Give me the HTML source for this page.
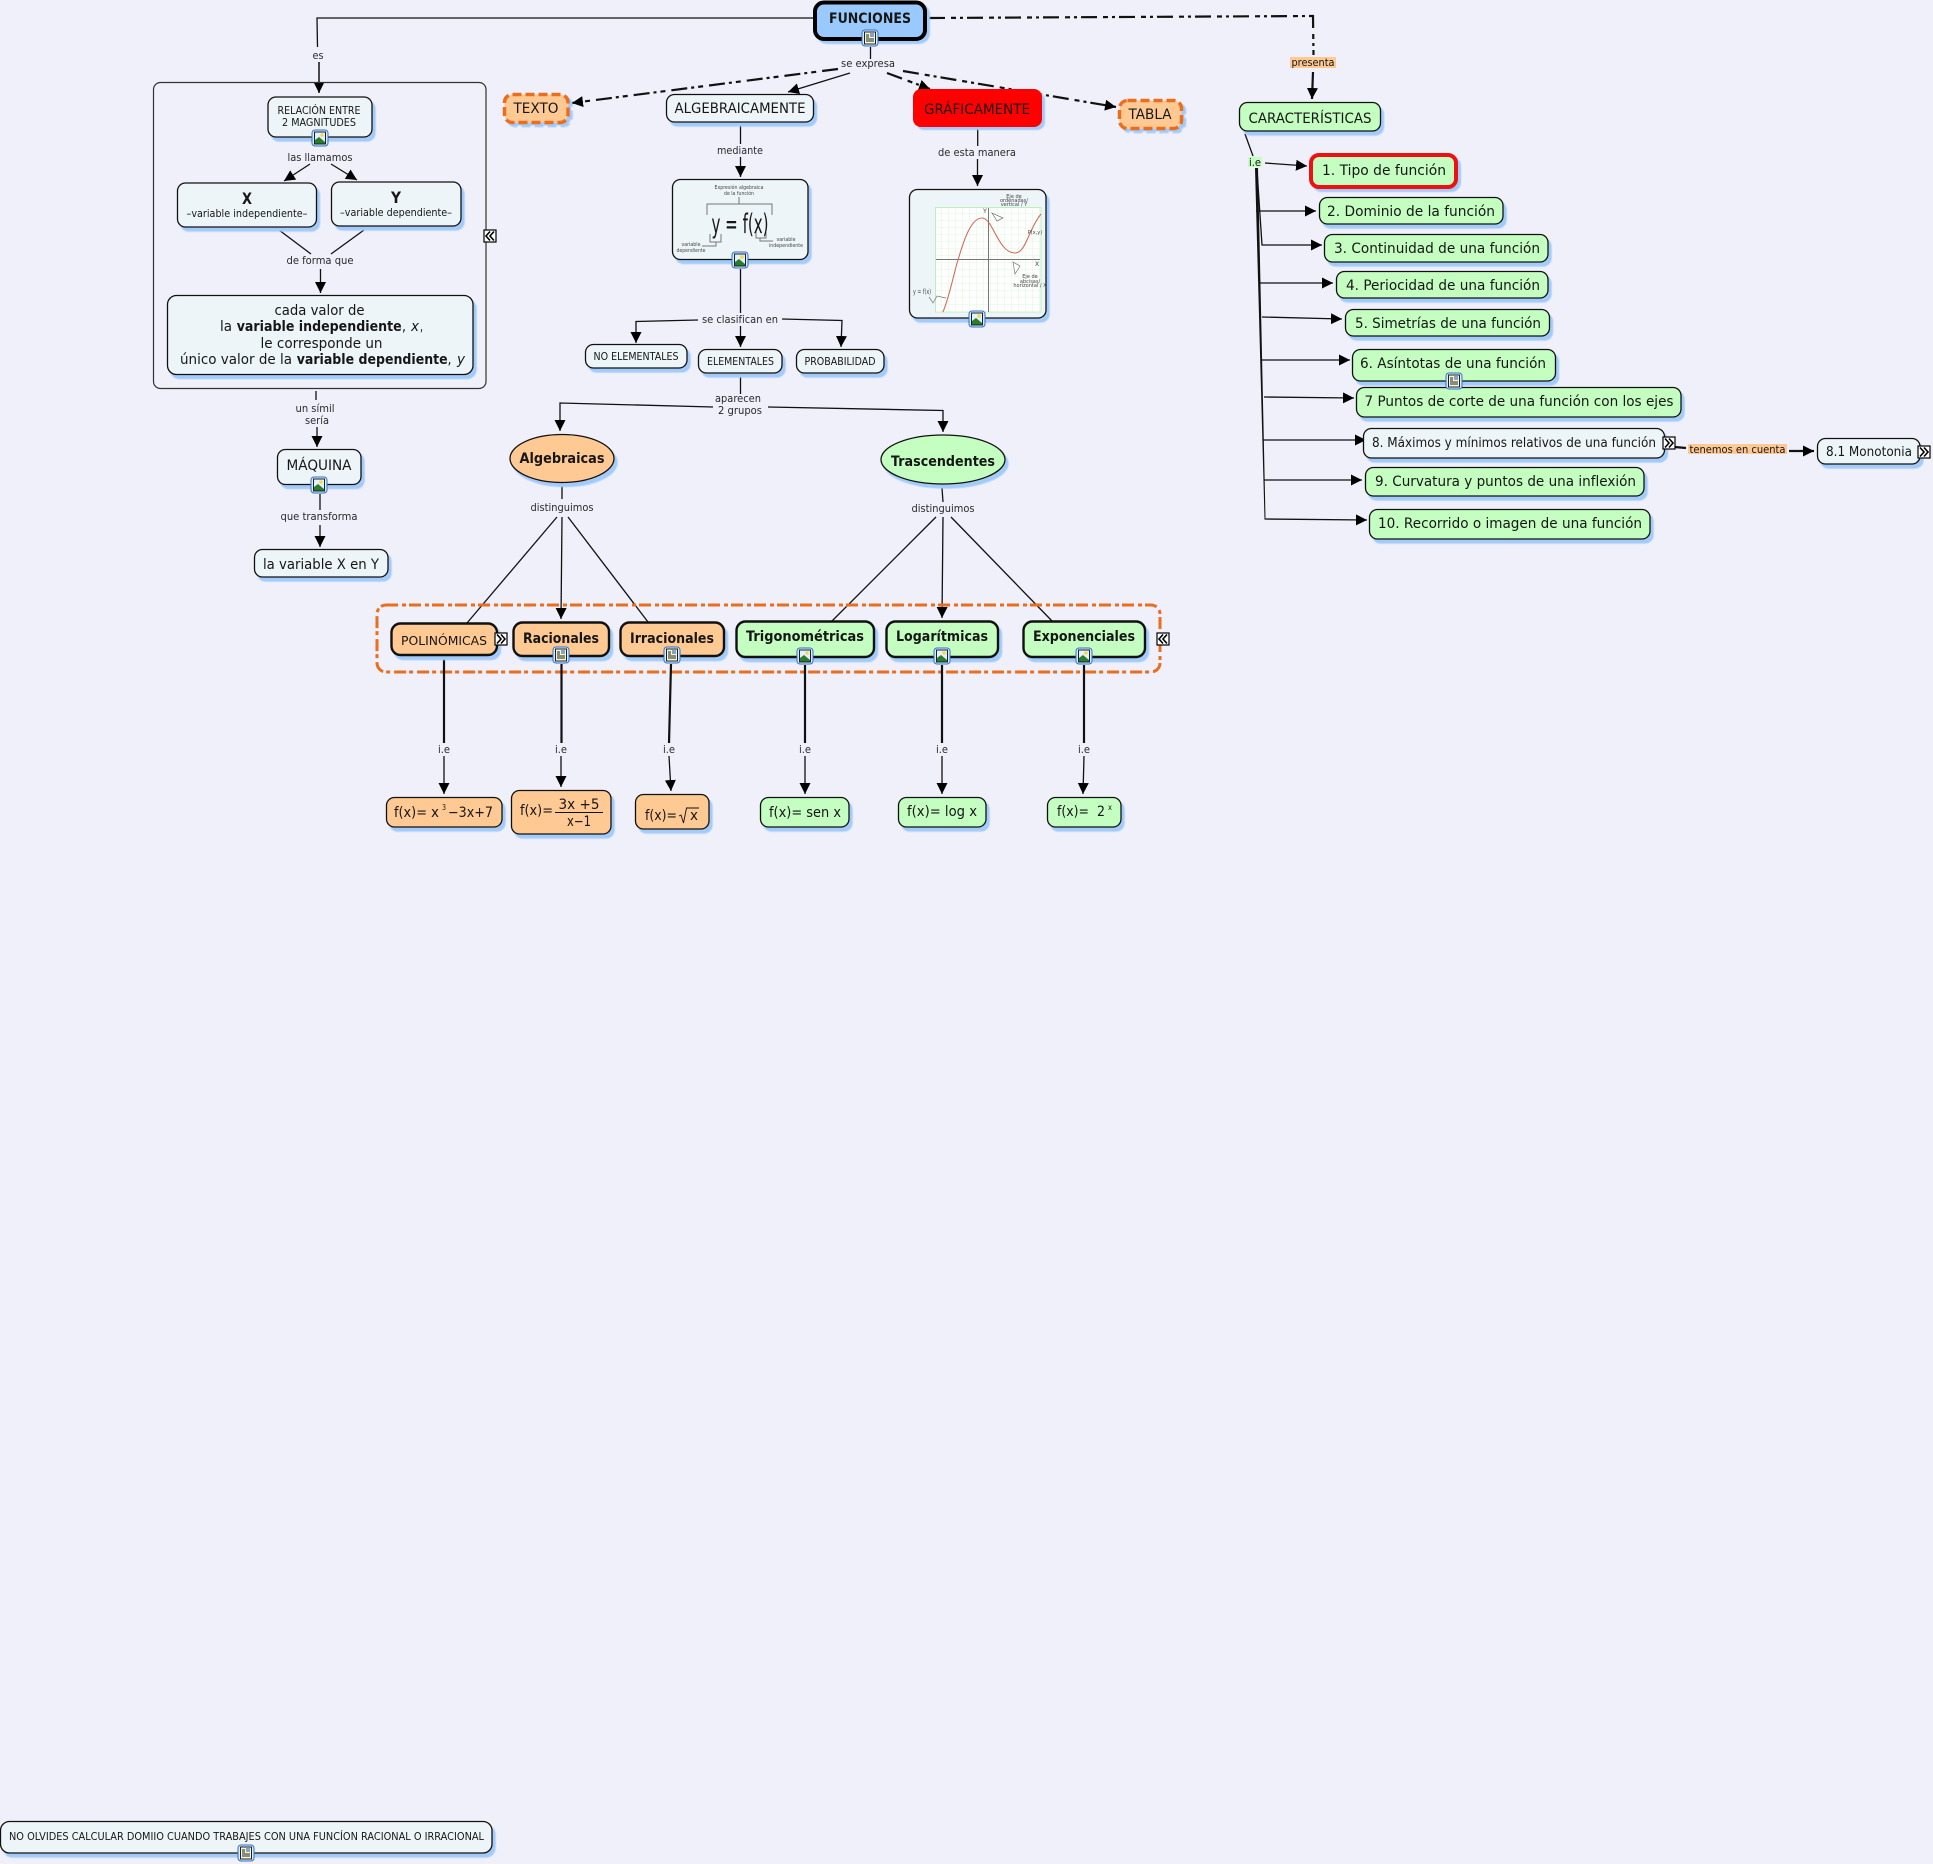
<!DOCTYPE html>
<html lang="es"><head><meta charset="utf-8"><title>FUNCIONES</title>
<style>
html,body{margin:0;padding:0;background:#eff0fa}
svg{display:block}
text{font-family:"DejaVu Sans","Liberation Sans",sans-serif;text-anchor:middle;fill:#161616}
.s{text-anchor:start}
.l{fill:#2a2a2a}
.b{font-weight:bold}
.n{stroke:#111;stroke-width:1.3;filter:drop-shadow(3.5px 4px .5px #a3cbf9)}
.p{fill:#eef5f8}.g{fill:#c4fec0}.o{fill:#ffc993}
.k{stroke-width:2.4}
.c{fill:none;stroke:#111;stroke-width:1.3}
.m{marker-end:url(#a)}
.d{fill:none;stroke:#111;stroke-width:2.2;stroke-dasharray:16 6 5 4 3 4}
.t{fill:none;stroke:#111;stroke-width:2.2}
.gr{fill:none;stroke:#777;stroke-width:1}
.x{fill:#444}
</style></head><body>
<svg xmlns="http://www.w3.org/2000/svg" width="1933" height="1864" viewBox="0 0 1933 1864">
<defs>
<marker id="a" markerUnits="userSpaceOnUse" markerWidth="13" markerHeight="13" refX="11" refY="5.5" orient="auto"><path d="M0 0L11 5.500L0 11Z" fill="#000"/></marker>
<g id="img"><rect x="-8" y="-8" width="16" height="16" rx="3" fill="#dce9f8" stroke="#2f6fc9"/><rect x="-5.5" y="-6" width="11" height="12" fill="#e6f0fa" stroke="#123"/><path d="M-5 5.5L-5 2L-1 -1L5 4L5 5.5Z" fill="#2a7d2a"/><circle cx="2" cy="-3" r="1.8" fill="#f5d94a"/></g>
<g id="doc"><rect x="-8" y="-8" width="16" height="16" rx="3" fill="#dce9f8" stroke="#2f6fc9"/><rect x="-5.5" y="-6" width="11" height="12" fill="#fbf6c8" stroke="#123"/><path d="M-4 -3H-1M-4 -1H-1M-4 1H4M-4 3H4" stroke="#123" stroke-width=".9"/><rect x="0" y="-5" width="4" height="4" fill="#8aa0c8"/></g>
<g id="cl"><rect x="-6" y="-6" width="12" height="12" fill="#fff" stroke="#000" stroke-width="1.2"/><path d="M0 -4.5L-4 0L0 4.5M4 -4.5L0 0L4 4.5" fill="none" stroke="#000" stroke-width="1.6"/></g>
<g id="cr"><rect x="-6" y="-6" width="12" height="12" fill="#fff" stroke="#000" stroke-width="1.2"/><path d="M0 -4.5L4 0L0 4.5M-4 -4.5L0 0L-4 4.5" fill="none" stroke="#000" stroke-width="1.6"/></g>
<pattern id="gp" width="7" height="7" patternUnits="userSpaceOnUse" x="935" y="207"><path d="M7 0V7H0" fill="none" stroke="#d6f3d6" stroke-width=".8"/></pattern>
</defs>
<rect width="1933" height="1864" fill="#eff0fa"/>

<!-- connectors -->
<path class="c" d="M813 18H317L317.5 47"/>
<path class="t m" d="M319 62V93" style="stroke-width:1.5"/>
<rect x="153.5" y="82.5" width="332.5" height="306" rx="7" fill="none" stroke="#333" stroke-width="1.2"/>
<path class="c" d="M870.5 47V59"/>
<path class="d m" d="M838 69L572 103"/>
<path class="c m" d="M850 73L788 92"/>
<path class="d m" d="M887 73L930 89" />
<path class="d m" d="M903 71L1116 107"/>
<path class="d" d="M929 18L1313 16L1313.5 55"/>
<path class="t m" d="M1313 72L1312 99"/>
<path class="c m" d="M310 164L284 181"/>
<path class="c m" d="M331 164L357 180"/>
<path class="c" d="M279 230L311 254M364 230L331 254"/>
<path class="c m" d="M320.500 269V293"/>
<path class="c" d="M316 391V400"/>
<path class="c m" d="M317 427V447"/>
<path class="c" d="M320 494V510"/>
<path class="c m" d="M320 525V547"/>
<path class="c" d="M740.500 125V144"/>
<path class="c m" d="M740.500 157V177"/>
<path class="c" d="M740.500 269V313"/>
<path class="c m" d="M698 320L636 321.500V343"/>
<path class="c m" d="M740.500 326V347"/>
<path class="c m" d="M782 319L842 320.500L841 347"/>
<path class="c" d="M740.500 377V394"/>
<path class="c m" d="M768 407L943 410.500L943 432"/>
<path class="c m" d="M713 407L560 403V431"/>
<path class="c" d="M977.700 129V146"/>
<path class="c m" d="M977.500 159V186"/>
<path class="c" d="M562 486V499M942 488L943 502"/>
<path class="c" d="M557 517L467 623M568 517L648 622"/>
<path class="c m" d="M562 517L561 619"/>
<path class="c" d="M936 517L832 621M951 517L1052 621"/>
<path class="c m" d="M943 517L942 618"/>
<!-- right branch -->
<path class="c" d="M1245 134L1253 156"/>
<path class="c m" d="M1265 163L1307 166"/>
<polygon points="1255,168 1258,168 1265.500,519 1264.500,519" fill="#111"/>
<path class="c m" d="M1256 211H1316"/>
<path class="c m" d="M1257 170L1262 245H1322"/>
<path class="c m" d="M1260 283H1333"/>
<path class="c m" d="M1262 317L1342 319"/>
<path class="c m" d="M1262 360H1350"/>
<path class="c m" d="M1264 397L1354 398"/>
<path class="c m" d="M1263 440H1366"/>
<path class="c m" d="M1264 480H1362"/>
<path class="c m" d="M1264.500 519L1367 520"/>
<path class="t" d="M1674.500 447L1686 448"/>
<path class="t m" d="M1789 451H1814"/>
<!-- group -->
<rect x="377" y="605" width="783" height="67" rx="9" fill="none" stroke="#ea6e1e" stroke-width="3" stroke-dasharray="12 4 4 3"/>
<!-- vertical -->
<path class="t" d="M444 657V743M561.500 664V743M671 664L669 743M805 665V743M942 665V743M1084 665V743"/>
<path class="c m" d="M444 756V794"/><path class="c m" d="M561 756V787"/><path class="c m" d="M669 756L671 791"/><path class="c m" d="M805 756V794"/><path class="c m" d="M942 756V794"/><path class="c m" d="M1084 756L1083 794"/>

<!-- labels -->
<g font-size="11">
<text class="l" x="318" y="59" textLength="11" lengthAdjust="spacingAndGlyphs">es</text>
<text class="l" x="868" y="67" textLength="54" lengthAdjust="spacingAndGlyphs">se expresa</text>
<text class="l" x="320" y="161" textLength="65" lengthAdjust="spacingAndGlyphs">las llamamos</text>
<text class="l" x="320" y="264" textLength="67" lengthAdjust="spacingAndGlyphs">de forma que</text>
<text class="l" x="315" y="412" textLength="39" lengthAdjust="spacingAndGlyphs">un símil</text>
<text class="l" x="317" y="424" textLength="24" lengthAdjust="spacingAndGlyphs">sería</text>
<text class="l" x="319" y="520" textLength="77" lengthAdjust="spacingAndGlyphs">que transforma</text>
<text class="l" x="740" y="154" textLength="46" lengthAdjust="spacingAndGlyphs">mediante</text>
<text class="l" x="977" y="156" textLength="78" lengthAdjust="spacingAndGlyphs">de esta manera</text>
<text class="l" x="740" y="323" textLength="76" lengthAdjust="spacingAndGlyphs">se clasifican en</text>
<text class="l" x="738" y="402" textLength="46" lengthAdjust="spacingAndGlyphs">aparecen</text>
<text class="l" x="740" y="414" textLength="44" lengthAdjust="spacingAndGlyphs">2 grupos</text>
<text class="l" x="562" y="511" textLength="63" lengthAdjust="spacingAndGlyphs">distinguimos</text>
<text class="l" x="943" y="512" textLength="63" lengthAdjust="spacingAndGlyphs">distinguimos</text>
<text class="l" x="444" y="753" textLength="12" lengthAdjust="spacingAndGlyphs">i.e</text>
<text class="l" x="561" y="753" textLength="12" lengthAdjust="spacingAndGlyphs">i.e</text>
<text class="l" x="669" y="753" textLength="12" lengthAdjust="spacingAndGlyphs">i.e</text>
<text class="l" x="805" y="753" textLength="12" lengthAdjust="spacingAndGlyphs">i.e</text>
<text class="l" x="942" y="753" textLength="12" lengthAdjust="spacingAndGlyphs">i.e</text>
<text class="l" x="1084" y="753" textLength="12" lengthAdjust="spacingAndGlyphs">i.e</text>
<rect x="1290" y="57" width="46" height="11" fill="#ffc993"/>
<text x="1313" y="66" textLength="43" lengthAdjust="spacingAndGlyphs">presenta</text>
<rect x="1248" y="157" width="14" height="10" fill="#c4fec0"/>
<text x="1255" y="166" textLength="12" lengthAdjust="spacingAndGlyphs">i.e</text>
<rect x="1688" y="444" width="99" height="10" fill="#ffc993"/>
<text x="1737.500" y="453" textLength="96" lengthAdjust="spacingAndGlyphs" font-size="10.500">tenemos en cuenta</text>
</g>

<!-- nodes left -->
<rect class="n p" x="268" y="97" width="104" height="40" rx="8"/>
<text x="319" y="114" font-size="10.500" textLength="83" lengthAdjust="spacingAndGlyphs">RELACIÓN ENTRE</text>
<text x="319" y="126" font-size="10.500" textLength="74" lengthAdjust="spacingAndGlyphs">2 MAGNITUDES</text>
<rect class="n p" x="177.500" y="183" width="139" height="44" rx="8"/>
<text class="b" x="247" y="204" font-size="16" textLength="10" lengthAdjust="spacingAndGlyphs">X</text>
<text x="247" y="217" font-size="10.500" textLength="121" lengthAdjust="spacingAndGlyphs">–variable independiente–</text>
<rect class="n p" x="331.500" y="182" width="129.500" height="44" rx="8"/>
<text class="b" x="396" y="203" font-size="16" textLength="10" lengthAdjust="spacingAndGlyphs">Y</text>
<text x="396" y="216" font-size="10.500" textLength="112" lengthAdjust="spacingAndGlyphs">–variable dependiente–</text>
<rect class="n p" x="167.500" y="295.500" width="305.500" height="79" rx="9"/>
<g font-size="14">
<text x="319.500" y="315" textLength="90" lengthAdjust="spacingAndGlyphs">cada valor de</text>
<text class="s" x="220" y="331" textLength="12" lengthAdjust="spacingAndGlyphs">la</text>
<text class="s b" x="236.700" y="331" textLength="165" lengthAdjust="spacingAndGlyphs">variable independiente</text>
<text class="s" x="402" y="331" textLength="4" lengthAdjust="spacingAndGlyphs">,</text>
<text class="s" x="411" y="331" textLength="8" lengthAdjust="spacingAndGlyphs" font-style="italic">x</text>
<text class="s" x="420" y="331" textLength="3" lengthAdjust="spacingAndGlyphs">,</text>
<text x="321.500" y="348" textLength="122" lengthAdjust="spacingAndGlyphs">le corresponde un</text>
<text class="s" x="180" y="364" textLength="112" lengthAdjust="spacingAndGlyphs">único valor de la</text>
<text class="s b" x="296.700" y="364" textLength="151" lengthAdjust="spacingAndGlyphs">variable dependiente</text>
<text class="s" x="447.500" y="364" textLength="4" lengthAdjust="spacingAndGlyphs">,</text>
<text class="s" x="457" y="364" textLength="8" lengthAdjust="spacingAndGlyphs" font-style="italic">y</text>
</g>
<rect class="n p" x="277.500" y="449.500" width="83.500" height="35" rx="8"/>
<text x="319" y="470" font-size="14" textLength="65" lengthAdjust="spacingAndGlyphs">MÁQUINA</text>
<rect class="n p" x="254.500" y="549.500" width="133.500" height="27.500" rx="8"/>
<text x="321" y="569" font-size="14" textLength="116" lengthAdjust="spacingAndGlyphs">la variable X en Y</text>

<!-- top row -->
<rect x="815" y="2.500" width="110" height="36.500" rx="9" fill="#99c9fd" stroke="#000" stroke-width="4" style="filter:drop-shadow(3.5px 3.5px .5px #a3cbf9)"/>
<text class="b" x="870" y="23" font-size="14" textLength="82" lengthAdjust="spacingAndGlyphs">FUNCIONES</text>
<rect class="o" x="504.500" y="94.500" width="63.500" height="28" rx="8" stroke="#ea6e1e" stroke-width="3.500" stroke-dasharray="9 4" style="filter:drop-shadow(3.5px 3.5px .5px #a3cbf9)"/>
<text x="536" y="113" font-size="14" textLength="45" lengthAdjust="spacingAndGlyphs">TEXTO</text>
<rect class="n p" x="666.500" y="94.500" width="147" height="27.500" rx="8"/>
<text x="740" y="113" font-size="14" textLength="131" lengthAdjust="spacingAndGlyphs">ALGEBRAICAMENTE</text>
<rect x="913" y="89" width="129" height="38" rx="8" fill="#ff0000" style="filter:drop-shadow(3.5px 3.5px .5px #a3cbf9)"/>
<text x="977" y="114" font-size="14" textLength="106" lengthAdjust="spacingAndGlyphs">GRÁFICAMENTE</text>
<rect class="o" x="1119.500" y="100.500" width="62" height="28" rx="8" stroke="#ea6e1e" stroke-width="3.500" stroke-dasharray="9 4" style="filter:drop-shadow(3.5px 3.5px .5px #a3cbf9)"/>
<text x="1150" y="119" font-size="14" textLength="43" lengthAdjust="spacingAndGlyphs">TABLA</text>

<!-- image node 1 -->
<rect class="n p" x="672.500" y="179.500" width="135.500" height="80" rx="8"/>
<g font-size="5.500" style="fill:#555">
<text class="x" x="739" y="189" textLength="49" lengthAdjust="spacingAndGlyphs">Expresión algebraica</text>
<text class="x" x="739" y="195" textLength="30" lengthAdjust="spacingAndGlyphs">de la función</text>
<text class="x" x="691" y="246" textLength="19" lengthAdjust="spacingAndGlyphs">variable</text>
<text class="x" x="691" y="252" textLength="29" lengthAdjust="spacingAndGlyphs">dependiente</text>
<text class="x" x="786" y="241" textLength="19" lengthAdjust="spacingAndGlyphs">variable</text>
<text class="x" x="786" y="247" textLength="34" lengthAdjust="spacingAndGlyphs">independiente</text>
</g>
<path class="gr" d="M707 215V204H772V215M739 197V204M710 234V242H721V234M716 242V246H702M756 232V238H766V232M760 238V241H773"/>
<text x="740" y="233" font-size="27" textLength="57" lengthAdjust="spacingAndGlyphs">y = f(x)</text>

<!-- image node 2 -->
<rect class="n p" x="909.500" y="189.500" width="136.500" height="128.500" rx="8"/>
<rect x="935.500" y="207.500" width="105.500" height="104.500" fill="#fff" stroke="#bdeebd"/>
<rect x="935.500" y="207.500" width="105.500" height="104.500" fill="url(#gp)"/>
<path class="gr" d="M988.500 208V312M936 259.500H1040"/>
<path d="M943 312C950 295 954 272 958 260C965 236 972 218 982 218C993 218 998 253 1015 253C1026 253 1028 230 1041 214" fill="none" stroke="#d66a5a" stroke-width="1.100"/>
<path d="M1003 218L992 213L997 221Z M1013 262L1015 274L1020 266Z" fill="#fff" stroke="#777" stroke-width=".7"/>
<g font-size="5">
<text class="x" x="1014" y="198">Eje de</text><text class="x" x="1014" y="202">ordenadas/</text><text class="x" x="1014" y="206">vertical / Y</text>
<text class="x" x="1030" y="278">Eje de</text><text class="x" x="1030" y="283">abcisas/</text><text class="x" x="1030" y="287">horizontal / X</text>
<text class="x" x="1035" y="234">P(x,y)</text>
<text class="x" x="985" y="213" font-size="6">Y</text>
<text class="x" x="1037" y="266" font-size="6">X</text>
</g>
<text class="x" x="922" y="294" font-size="7" textLength="18" lengthAdjust="spacingAndGlyphs">y = f(x)</text>
<path class="gr" style="stroke-width:.7" d="M929 297L933 303L937 296L946 298"/>

<!-- classification -->
<rect class="n p" x="585.500" y="344.500" width="101.500" height="23.500" rx="8"/>
<text x="636" y="360" font-size="10.500" textLength="85" lengthAdjust="spacingAndGlyphs">NO ELEMENTALES</text>
<rect class="n p" x="698.500" y="349.500" width="83.500" height="23.500" rx="8"/>
<text x="740.500" y="365" font-size="10.500" textLength="67" lengthAdjust="spacingAndGlyphs">ELEMENTALES</text>
<rect class="n p" x="796.500" y="349.500" width="87.500" height="23.500" rx="8"/>
<text x="840" y="365" font-size="10.500" textLength="71" lengthAdjust="spacingAndGlyphs">PROBABILIDAD</text>

<ellipse class="n o" cx="562" cy="458.500" rx="52" ry="24"/>
<text class="b" x="562" y="463" font-size="14" textLength="85" lengthAdjust="spacingAndGlyphs">Algebraicas</text>
<ellipse class="n g" cx="943" cy="459.500" rx="62" ry="24.500"/>
<text class="b" x="943" y="466" font-size="14" textLength="104" lengthAdjust="spacingAndGlyphs">Trascendentes</text>

<!-- types -->
<g font-size="14">
<rect class="n o k" x="391.500" y="623.500" width="105.500" height="31.500" rx="9"/>
<text x="444" y="645" font-size="12.500" textLength="86" lengthAdjust="spacingAndGlyphs">POLINÓMICAS</text>
<rect class="n o k" x="513.500" y="622.500" width="95.500" height="33.500" rx="9"/>
<text class="b" x="561" y="643" textLength="76" lengthAdjust="spacingAndGlyphs">Racionales</text>
<rect class="n o k" x="620.500" y="622.500" width="103.500" height="33.500" rx="9"/>
<text class="b" x="672" y="643" textLength="84" lengthAdjust="spacingAndGlyphs">Irracionales</text>
<rect class="n g k" x="736.500" y="621.500" width="137.500" height="35.500" rx="9"/>
<text class="b" x="805" y="641" textLength="118" lengthAdjust="spacingAndGlyphs">Trigonométricas</text>
<rect class="n g k" x="886.500" y="621.500" width="111.500" height="35.500" rx="9"/>
<text class="b" x="942" y="641" textLength="92" lengthAdjust="spacingAndGlyphs">Logarítmicas</text>
<rect class="n g k" x="1023.500" y="621.500" width="121.500" height="35.500" rx="9"/>
<text class="b" x="1084" y="641" textLength="102" lengthAdjust="spacingAndGlyphs">Exponenciales</text>

<!-- formulas -->
<rect class="n o" x="386.500" y="797.500" width="115.500" height="29.500" rx="8"/>
<text class="s" x="394" y="817" textLength="33" lengthAdjust="spacingAndGlyphs">f(x)=</text>
<text class="s" x="431" y="817" textLength="8" lengthAdjust="spacingAndGlyphs">x</text>
<text class="s" x="442" y="810" font-size="8" textLength="4" lengthAdjust="spacingAndGlyphs">3</text>
<text class="s" x="448" y="817" textLength="45" lengthAdjust="spacingAndGlyphs">−3x+7</text>
<rect class="n o" x="511.500" y="790.500" width="99.500" height="43.500" rx="8"/>
<text class="s" x="520" y="815" textLength="33" lengthAdjust="spacingAndGlyphs">f(x)=</text>
<text x="579" y="809" textLength="41" lengthAdjust="spacingAndGlyphs">3x +5</text>
<path d="M555 812.500H603" stroke="#111" stroke-width="1"/>
<text x="579" y="826" textLength="24" lengthAdjust="spacingAndGlyphs">x−1</text>
<rect class="n o" x="635.500" y="794.500" width="73.500" height="34.500" rx="8"/>
<text class="s" x="645" y="820" textLength="32" lengthAdjust="spacingAndGlyphs">f(x)=</text>
<path d="M679 816l2 -1l2.500 8l3 -15h12.500" fill="none" stroke="#111" stroke-width=".9"/>
<text class="s" x="690" y="820" textLength="8" lengthAdjust="spacingAndGlyphs">x</text>
<rect class="n g" x="760.500" y="797.500" width="88.500" height="29.500" rx="8"/>
<text x="805" y="817" textLength="72" lengthAdjust="spacingAndGlyphs">f(x)= sen x</text>
<rect class="n g" x="898.500" y="797.500" width="87.500" height="29.500" rx="8"/>
<text x="942" y="816" textLength="70" lengthAdjust="spacingAndGlyphs">f(x)= log x</text>
<rect class="n g" x="1047.500" y="797.500" width="73.500" height="29.500" rx="8"/>
<text class="s" x="1057" y="816" textLength="32" lengthAdjust="spacingAndGlyphs">f(x)=</text>
<text class="s" x="1097" y="816" textLength="8" lengthAdjust="spacingAndGlyphs">2</text>
<text class="s" x="1108" y="810" font-size="8" textLength="4" lengthAdjust="spacingAndGlyphs">x</text>

<!-- characteristics -->
<rect class="n g" x="1239.500" y="102.500" width="141" height="28.500" rx="8"/>
<text x="1310" y="123" textLength="123" lengthAdjust="spacingAndGlyphs">CARACTERÍSTICAS</text>
<rect class="g" x="1311" y="155" width="145" height="32" rx="8" stroke="#ee1111" stroke-width="4" style="filter:drop-shadow(3.5px 3.5px .5px #a3cbf9)"/>
<text x="1384" y="175" textLength="124" lengthAdjust="spacingAndGlyphs">1. Tipo de función</text>
<rect class="n g" x="1319.500" y="197.500" width="183.500" height="26.500" rx="8"/>
<text x="1411" y="216" textLength="168" lengthAdjust="spacingAndGlyphs">2. Dominio de la función</text>
<rect class="n g" x="1324.500" y="234.500" width="223.500" height="27.500" rx="8"/>
<text x="1437" y="253" textLength="206" lengthAdjust="spacingAndGlyphs">3. Continuidad de una función</text>
<rect class="n g" x="1336.500" y="271.500" width="211.500" height="26.500" rx="8"/>
<text x="1443" y="290" textLength="194" lengthAdjust="spacingAndGlyphs">4. Periocidad de una función</text>
<rect class="n g" x="1345.500" y="309.500" width="204" height="26.500" rx="8"/>
<text x="1448" y="328" textLength="186" lengthAdjust="spacingAndGlyphs">5. Simetrías de una función</text>
<rect class="n g" x="1352.500" y="349.500" width="203" height="31.500" rx="8"/>
<text x="1453" y="368" textLength="186" lengthAdjust="spacingAndGlyphs">6. Asíntotas de una función</text>
<rect class="n g" x="1356.500" y="387.500" width="324.500" height="29.500" rx="8"/>
<text x="1519" y="406" textLength="309" lengthAdjust="spacingAndGlyphs">7 Puntos de corte de una función con los ejes</text>
<rect class="n p" x="1363.500" y="428.500" width="301" height="29.500" rx="8"/>
<text x="1514" y="447" font-size="13" textLength="284" lengthAdjust="spacingAndGlyphs">8. Máximos y mínimos relativos de una función</text>
<rect class="n g" x="1365.500" y="467.500" width="278.500" height="28.500" rx="8"/>
<text x="1505.500" y="486" textLength="261" lengthAdjust="spacingAndGlyphs">9. Curvatura y puntos de una inflexión</text>
<rect class="n g" x="1369.500" y="509.500" width="280.500" height="29.500" rx="8"/>
<text x="1510" y="528" textLength="264" lengthAdjust="spacingAndGlyphs">10. Recorrido o imagen de una función</text>
<rect class="n p" x="1817.500" y="438.500" width="102.500" height="25.500" rx="8"/>
<text x="1869" y="456" font-size="13" textLength="86" lengthAdjust="spacingAndGlyphs">8.1 Monotonia</text>
</g>

<!-- bottom note -->
<rect class="n p" x="0.500" y="1821.500" width="491.500" height="31.500" rx="9"/>
<text x="246.500" y="1840" font-size="10.500" textLength="475" lengthAdjust="spacingAndGlyphs">NO OLVIDES CALCULAR DOMIIO CUANDO TRABAJES CON UNA FUNCÍON RACIONAL O IRRACIONAL</text>

<!-- icons -->
<use href="#doc" x="870" y="38"/>
<use href="#img" x="320" y="138"/>
<use href="#img" x="319" y="485"/>
<use href="#img" x="740" y="260"/>
<use href="#img" x="977" y="319"/>
<use href="#doc" x="561" y="655"/>
<use href="#doc" x="672" y="655"/>
<use href="#img" x="805" y="656"/>
<use href="#img" x="942" y="656"/>
<use href="#img" x="1084" y="656"/>
<use href="#doc" x="1454" y="381"/>
<use href="#doc" x="246" y="1853"/>
<use href="#cl" x="490" y="236"/>
<use href="#cl" x="1163" y="639"/>
<use href="#cr" x="501" y="639"/>
<use href="#cr" x="1669" y="443"/>
<use href="#cr" x="1924" y="452"/>
</svg>
</body></html>
